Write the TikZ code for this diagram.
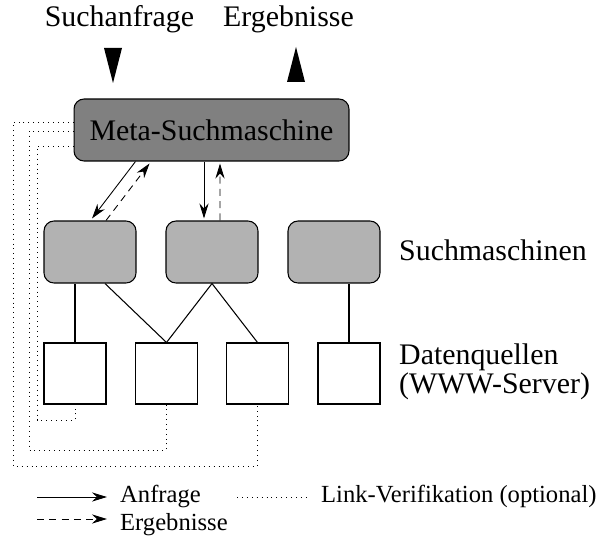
\documentclass[tikz,border=0pt]{standalone}
\usepackage{fontspec}
\setmainfont{Liberation Serif}
\usepackage{tikz}
\usetikzlibrary{calc,arrows.meta}

\tikzset{
  metabox/.style={draw,line width=0.6pt,rounded corners=0.2cm,fill=black!50,
    minimum width=5.5cm,minimum height=1.24cm},
  smbox/.style={draw,line width=0.6pt,rounded corners=0.2cm,fill=black!30,
    minimum width=1.84cm,minimum height=1.24cm},
  dqbox/.style={draw,line width=0.6pt,fill=white,
    minimum width=1.24cm,minimum height=1.22cm},
  req/.style={line width=0.5pt,-{Stealth[length=8.5pt,width=5.2pt]}},
  res/.style={req,dash pattern=on 4pt off 3pt},
  link/.style={line width=0.5pt,dash pattern=on 0.5pt off 2.3pt},
  legend/.style={anchor=base west,font=\fontsize{14}{16}\selectfont},
}

\begin{document}
\begin{tikzpicture}[x=0.02cm,y=-0.02cm,font=\fontsize{17}{20}\selectfont]
\useasboundingbox (0,0) rectangle (601,537);
% top
\node [anchor=base] (anfr) at (119.5,27) {Suchanfrage};
\node [anchor=base] (erg) at (288.5,27) {Ergebnisse};
\fill (104,48) -- (122,48) -- (113,83) -- cycle;
\fill (287,82) -- (305,82) -- (296,47) -- cycle;
\node [metabox] (meta) at (211.5,130) {Meta-Suchmaschine};
% search engines
\node [smbox] (sm1) at (90,252) {};
\node [smbox] (sm2) at (212,252) {};
\node [smbox] (sm3) at (334,252) {};
\node [anchor=base west] (smlab) at (393,260) {Suchmaschinen};
% data sources
\node [dqbox] (dq1) at (75,373.5) {};
\node [dqbox] (dq2) at (166.5,373.5) {};
\node [dqbox] (dq3) at (257.5,373.5) {};
\node [dqbox] (dq4) at (349,373.5) {};
\node [anchor=base west,align=left,font=\fontsize{17}{14.8}\selectfont] (dqlab)
  at (393,393) {Datenquellen\\(WWW-Server)};
\draw [line width=0.6pt] (dq1.north) -- (dq1.north |- sm1.south);
\draw [line width=0.6pt] ($(sm1.south)+(15,0)$) -- (dq2.north);
\draw [line width=0.6pt] (sm2.south) -- (dq2.north);
\draw [line width=0.6pt] (sm2.south) -- (dq3.north);
\draw [line width=0.6pt] (dq4.north) -- (dq4.north |- sm3.south);
% queries and results
\draw [req] ($(meta.south west)+(62,0)$) -- ($(sm1.north)+(2,-2)$);
\draw [res] ($(sm1.north)+(16,0)$) -- ($(meta.south west)+(76,2)$);
\draw [req] ($(meta.south)+(-7.5,0)$) -- ($(sm2.north)+(-8,-2)$);
\draw [res] ($(sm2.north)+(8,0)$) -- ($(meta.south)+(8.5,2)$);
% link verification
\draw [link] ($(meta.west)+(0,-8)$) -| (13,466) -| (dq3.south);
\draw [link] ($(meta.west)+(0,1)$) -| (29,450) -| (dq2.south);
\draw [link] ($(meta.west)+(0,16)$) -| (37,420) -| (dq1.south);
% legend
\node [legend] (lg1) at (114,502) {Anfrage};
\node [legend] (lg2) at (114,530) {Ergebnisse};
\node [legend] (lg3) at (315,502) {Link-Verifikation (optional)};
\draw [req,shorten >=4pt] (37,497) -- (lg1.west |- 0,497);
\draw [res,shorten >=4pt] (37,519) -- (lg2.west |- 0,519);
\draw [link,shorten >=3.4pt] (237,497) -- (lg3.west |- 0,497);
\end{tikzpicture}
\end{document}
